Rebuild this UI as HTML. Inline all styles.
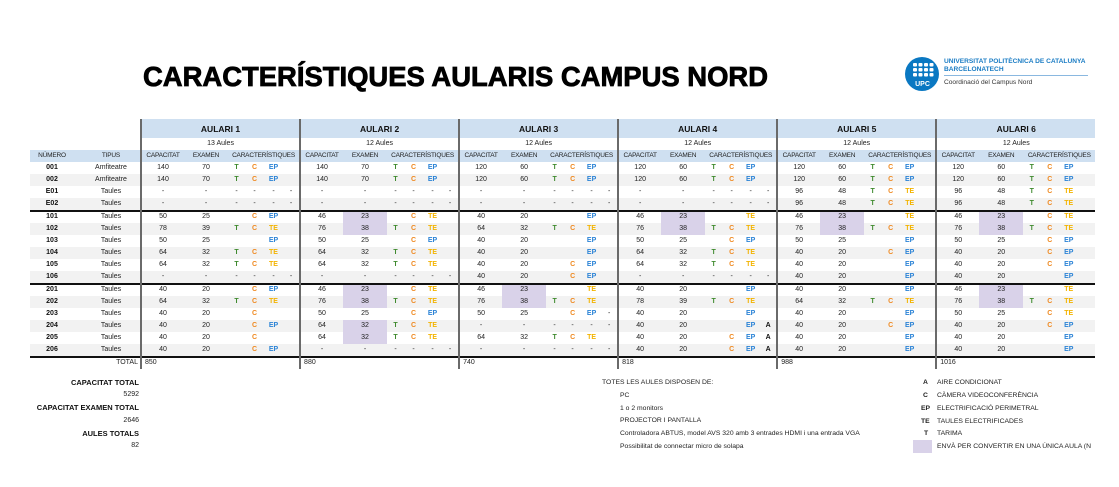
<!DOCTYPE html>
<html><head><meta charset="utf-8">
<style>
*{margin:0;padding:0;box-sizing:border-box}
body{width:1119px;height:487px;background:#fff;position:relative;overflow:hidden;font-family:"Liberation Sans",sans-serif;color:#222}
.abs{position:absolute;white-space:nowrap}
table{position:absolute;left:30px;top:119px;border-collapse:collapse;table-layout:fixed;width:1065px}
td{height:12px;font-size:7px;text-align:center;white-space:nowrap;overflow:hidden;padding:0;line-height:12px}
tr.g td{background:#f2f2f2}
tr.g td.h,td.h{background:#d9d2e9}
tr.b td{box-shadow:inset 0 2px 0 #111;padding-top:1px}
td.s{border-left:2px solid #6a6a6a}
td.n{font-weight:bold;color:#111}
td.tp{padding-left:8px}
.t{color:#3f8a2e;font-weight:bold}
.c{color:#ef8a22;font-weight:bold}
.ep{color:#2b83d6;font-weight:bold}
.te{color:#f3b300;font-weight:bold}
.a{color:#111;font-weight:bold}
tr.hd td.au{background:#cfe0f1;font-weight:bold;font-size:8.5px;height:19px;color:#111}
tr.hc td{background:#cfe0f1;font-size:6.5px;letter-spacing:-0.2px;color:#222}
tr.tot td{text-align:left;padding-left:3px}
.bl{font-size:7.5px;font-weight:bold;color:#111;text-align:right;width:120px}
.bv{font-size:7px;text-align:right;width:120px}
.lg{font-size:6.8px;color:#222}
</style></head><body>

<svg class="abs" style="left:140px;top:56px" width="640" height="40">
<text x="3" y="30" font-family="Liberation Sans, sans-serif" font-weight="bold" font-size="28" fill="#000" stroke="#000" stroke-width="0.8" textLength="625" lengthAdjust="spacingAndGlyphs">CARACTERÍSTIQUES AULARIS CAMPUS NORD</text>
</svg>

<svg class="abs" style="left:903px;top:55px" width="40" height="40">
<circle cx="19" cy="19" r="17" fill="#0a78c2"/>
<g fill="#fff">
<rect x="10" y="8" width="4" height="3.5" rx="1"/><rect x="15.5" y="8" width="4" height="3.5" rx="1"/><rect x="21" y="8" width="4" height="3.5" rx="1"/><rect x="26.5" y="8" width="4" height="3.5" rx="1"/>
<rect x="10" y="13" width="4" height="3.5" rx="1"/><rect x="15.5" y="13" width="4" height="3.5" rx="1"/><rect x="21" y="13" width="4" height="3.5" rx="1"/><rect x="26.5" y="13" width="4" height="3.5" rx="1"/>
<rect x="10" y="18" width="4" height="3.5" rx="1"/><rect x="15.5" y="18" width="4" height="3.5" rx="1"/><rect x="21" y="18" width="4" height="3.5" rx="1"/><rect x="26.5" y="18" width="4" height="3.5" rx="1"/>
<text x="19.5" y="31" font-family="Liberation Sans, sans-serif" font-size="7" font-weight="bold" text-anchor="middle">UPC</text>
</g></svg>
<div class="abs" style="left:944px;top:58px;font-size:6.6px;font-weight:bold;color:#1a7cc4">UNIVERSITAT POLITÈCNICA DE CATALUNYA</div>
<div class="abs" style="left:944px;top:66px;font-size:6.6px;font-weight:bold;color:#1a7cc4">BARCELONATECH</div>
<div class="abs" style="left:944px;top:75px;width:144px;height:1px;background:#8ab8e0"></div>
<div class="abs" style="left:944px;top:79px;font-size:6.6px;color:#333">Coordinació del Campus Nord</div>

<table>
<colgroup><col style="width:44px"><col style="width:67px">
<col style="width:43px"><col style="width:44px"><col style="width:17px"><col style="width:19px"><col style="width:19px"><col style="width:17px">
<col style="width:43px"><col style="width:44px"><col style="width:17px"><col style="width:19px"><col style="width:19px"><col style="width:17px">
<col style="width:43px"><col style="width:44px"><col style="width:17px"><col style="width:19px"><col style="width:19px"><col style="width:17px">
<col style="width:43px"><col style="width:44px"><col style="width:17px"><col style="width:19px"><col style="width:19px"><col style="width:17px">
<col style="width:43px"><col style="width:44px"><col style="width:17px"><col style="width:19px"><col style="width:19px"><col style="width:17px">
<col style="width:43px"><col style="width:44px"><col style="width:17px"><col style="width:19px"><col style="width:19px"><col style="width:17px">
</colgroup>
<tr class="hd"><td></td><td></td><td class="au s" colspan="6">AULARI 1</td><td class="au s" colspan="6">AULARI 2</td><td class="au s" colspan="6">AULARI 3</td><td class="au s" colspan="6">AULARI 4</td><td class="au s" colspan="6">AULARI 5</td><td class="au s" colspan="6">AULARI 6</td></tr>
<tr><td></td><td></td><td class="s" colspan="6">13 Aules</td><td class="s" colspan="6">12 Aules</td><td class="s" colspan="6">12 Aules</td><td class="s" colspan="6">12 Aules</td><td class="s" colspan="6">12 Aules</td><td class="s" colspan="6">12 Aules</td></tr>
<tr class="hc"><td>NÚMERO</td><td class="tp">TIPUS</td>
<td class="s">CAPACITAT</td><td>EXAMEN</td><td colspan="4">CARACTERÍSTIQUES</td>
<td class="s">CAPACITAT</td><td>EXAMEN</td><td colspan="4">CARACTERÍSTIQUES</td>
<td class="s">CAPACITAT</td><td>EXAMEN</td><td colspan="4">CARACTERÍSTIQUES</td>
<td class="s">CAPACITAT</td><td>EXAMEN</td><td colspan="4">CARACTERÍSTIQUES</td>
<td class="s">CAPACITAT</td><td>EXAMEN</td><td colspan="4">CARACTERÍSTIQUES</td>
<td class="s">CAPACITAT</td><td>EXAMEN</td><td colspan="4">CARACTERÍSTIQUES</td></tr>

<tr><td class="n">001</td><td class="tp">Amfiteatre</td>
<td class="s">140</td><td>70</td><td class="t">T</td><td class="c">C</td><td class="ep">EP</td><td></td>
<td class="s">140</td><td>70</td><td class="t">T</td><td class="c">C</td><td class="ep">EP</td><td></td>
<td class="s">120</td><td>60</td><td class="t">T</td><td class="c">C</td><td class="ep">EP</td><td></td>
<td class="s">120</td><td>60</td><td class="t">T</td><td class="c">C</td><td class="ep">EP</td><td></td>
<td class="s">120</td><td>60</td><td class="t">T</td><td class="c">C</td><td class="ep">EP</td><td></td>
<td class="s">120</td><td>60</td><td class="t">T</td><td class="c">C</td><td class="ep">EP</td><td></td></tr>
<tr class="g"><td class="n">002</td><td class="tp">Amfiteatre</td>
<td class="s">140</td><td>70</td><td class="t">T</td><td class="c">C</td><td class="ep">EP</td><td></td>
<td class="s">140</td><td>70</td><td class="t">T</td><td class="c">C</td><td class="ep">EP</td><td></td>
<td class="s">120</td><td>60</td><td class="t">T</td><td class="c">C</td><td class="ep">EP</td><td></td>
<td class="s">120</td><td>60</td><td class="t">T</td><td class="c">C</td><td class="ep">EP</td><td></td>
<td class="s">120</td><td>60</td><td class="t">T</td><td class="c">C</td><td class="ep">EP</td><td></td>
<td class="s">120</td><td>60</td><td class="t">T</td><td class="c">C</td><td class="ep">EP</td><td></td></tr>
<tr><td class="n">E01</td><td class="tp">Taules</td>
<td class="s">-</td><td>-</td><td>-</td><td>-</td><td>-</td><td>-</td>
<td class="s">-</td><td>-</td><td>-</td><td>-</td><td>-</td><td>-</td>
<td class="s">-</td><td>-</td><td>-</td><td>-</td><td>-</td><td>-</td>
<td class="s">-</td><td>-</td><td>-</td><td>-</td><td>-</td><td>-</td>
<td class="s">96</td><td>48</td><td class="t">T</td><td class="c">C</td><td class="te">TE</td><td></td>
<td class="s">96</td><td>48</td><td class="t">T</td><td class="c">C</td><td class="te">TE</td><td></td></tr>
<tr class="g"><td class="n">E02</td><td class="tp">Taules</td>
<td class="s">-</td><td>-</td><td>-</td><td>-</td><td>-</td><td>-</td>
<td class="s">-</td><td>-</td><td>-</td><td>-</td><td>-</td><td>-</td>
<td class="s">-</td><td>-</td><td>-</td><td>-</td><td>-</td><td>-</td>
<td class="s">-</td><td>-</td><td>-</td><td>-</td><td>-</td><td>-</td>
<td class="s">96</td><td>48</td><td class="t">T</td><td class="c">C</td><td class="te">TE</td><td></td>
<td class="s">96</td><td>48</td><td class="t">T</td><td class="c">C</td><td class="te">TE</td><td></td></tr>

<tr class="b"><td class="n">101</td><td class="tp">Taules</td>
<td class="s">50</td><td>25</td><td></td><td class="c">C</td><td class="ep">EP</td><td></td>
<td class="s">46</td><td class="h">23</td><td></td><td class="c">C</td><td class="te">TE</td><td></td>
<td class="s">40</td><td>20</td><td></td><td></td><td class="ep">EP</td><td></td>
<td class="s">46</td><td class="h">23</td><td></td><td></td><td class="te">TE</td><td></td>
<td class="s">46</td><td class="h">23</td><td></td><td></td><td class="te">TE</td><td></td>
<td class="s">46</td><td class="h">23</td><td></td><td class="c">C</td><td class="te">TE</td><td></td></tr>
<tr class="g"><td class="n">102</td><td class="tp">Taules</td>
<td class="s">78</td><td>39</td><td class="t">T</td><td class="c">C</td><td class="te">TE</td><td></td>
<td class="s">76</td><td class="h">38</td><td class="t">T</td><td class="c">C</td><td class="te">TE</td><td></td>
<td class="s">64</td><td>32</td><td class="t">T</td><td class="c">C</td><td class="te">TE</td><td></td>
<td class="s">76</td><td class="h">38</td><td class="t">T</td><td class="c">C</td><td class="te">TE</td><td></td>
<td class="s">76</td><td class="h">38</td><td class="t">T</td><td class="c">C</td><td class="te">TE</td><td></td>
<td class="s">76</td><td class="h">38</td><td class="t">T</td><td class="c">C</td><td class="te">TE</td><td></td></tr>
<tr><td class="n">103</td><td class="tp">Taules</td>
<td class="s">50</td><td>25</td><td></td><td></td><td class="ep">EP</td><td></td>
<td class="s">50</td><td>25</td><td></td><td class="c">C</td><td class="ep">EP</td><td></td>
<td class="s">40</td><td>20</td><td></td><td></td><td class="ep">EP</td><td></td>
<td class="s">50</td><td>25</td><td></td><td class="c">C</td><td class="ep">EP</td><td></td>
<td class="s">50</td><td>25</td><td></td><td></td><td class="ep">EP</td><td></td>
<td class="s">50</td><td>25</td><td></td><td class="c">C</td><td class="ep">EP</td><td></td></tr>
<tr class="g"><td class="n">104</td><td class="tp">Taules</td>
<td class="s">64</td><td>32</td><td class="t">T</td><td class="c">C</td><td class="te">TE</td><td></td>
<td class="s">64</td><td>32</td><td class="t">T</td><td class="c">C</td><td class="te">TE</td><td></td>
<td class="s">40</td><td>20</td><td></td><td></td><td class="ep">EP</td><td></td>
<td class="s">64</td><td>32</td><td class="t">T</td><td class="c">C</td><td class="te">TE</td><td></td>
<td class="s">40</td><td>20</td><td></td><td class="c">C</td><td class="ep">EP</td><td></td>
<td class="s">40</td><td>20</td><td></td><td class="c">C</td><td class="ep">EP</td><td></td></tr>
<tr><td class="n">105</td><td class="tp">Taules</td>
<td class="s">64</td><td>32</td><td class="t">T</td><td class="c">C</td><td class="te">TE</td><td></td>
<td class="s">64</td><td>32</td><td class="t">T</td><td class="c">C</td><td class="te">TE</td><td></td>
<td class="s">40</td><td>20</td><td></td><td class="c">C</td><td class="ep">EP</td><td></td>
<td class="s">64</td><td>32</td><td class="t">T</td><td class="c">C</td><td class="te">TE</td><td></td>
<td class="s">40</td><td>20</td><td></td><td></td><td class="ep">EP</td><td></td>
<td class="s">40</td><td>20</td><td></td><td class="c">C</td><td class="ep">EP</td><td></td></tr>
<tr class="g"><td class="n">106</td><td class="tp">Taules</td>
<td class="s">-</td><td>-</td><td>-</td><td>-</td><td>-</td><td>-</td>
<td class="s">-</td><td>-</td><td>-</td><td>-</td><td>-</td><td>-</td>
<td class="s">40</td><td>20</td><td></td><td class="c">C</td><td class="ep">EP</td><td></td>
<td class="s">-</td><td>-</td><td>-</td><td>-</td><td>-</td><td>-</td>
<td class="s">40</td><td>20</td><td></td><td></td><td class="ep">EP</td><td></td>
<td class="s">40</td><td>20</td><td></td><td></td><td class="ep">EP</td><td></td></tr>

<tr class="b"><td class="n">201</td><td class="tp">Taules</td>
<td class="s">40</td><td>20</td><td></td><td class="c">C</td><td class="ep">EP</td><td></td>
<td class="s">46</td><td class="h">23</td><td></td><td class="c">C</td><td class="te">TE</td><td></td>
<td class="s">46</td><td class="h">23</td><td></td><td></td><td class="te">TE</td><td></td>
<td class="s">40</td><td>20</td><td></td><td></td><td class="ep">EP</td><td></td>
<td class="s">40</td><td>20</td><td></td><td></td><td class="ep">EP</td><td></td>
<td class="s">46</td><td class="h">23</td><td></td><td></td><td class="te">TE</td><td></td></tr>
<tr class="g"><td class="n">202</td><td class="tp">Taules</td>
<td class="s">64</td><td>32</td><td class="t">T</td><td class="c">C</td><td class="te">TE</td><td></td>
<td class="s">76</td><td class="h">38</td><td class="t">T</td><td class="c">C</td><td class="te">TE</td><td></td>
<td class="s">76</td><td class="h">38</td><td class="t">T</td><td class="c">C</td><td class="te">TE</td><td></td>
<td class="s">78</td><td>39</td><td class="t">T</td><td class="c">C</td><td class="te">TE</td><td></td>
<td class="s">64</td><td>32</td><td class="t">T</td><td class="c">C</td><td class="te">TE</td><td></td>
<td class="s">76</td><td class="h">38</td><td class="t">T</td><td class="c">C</td><td class="te">TE</td><td></td></tr>
<tr><td class="n">203</td><td class="tp">Taules</td>
<td class="s">40</td><td>20</td><td></td><td class="c">C</td><td></td><td></td>
<td class="s">50</td><td>25</td><td></td><td class="c">C</td><td class="ep">EP</td><td></td>
<td class="s">50</td><td>25</td><td></td><td class="c">C</td><td class="ep">EP</td><td>-</td>
<td class="s">40</td><td>20</td><td></td><td></td><td class="ep">EP</td><td></td>
<td class="s">40</td><td>20</td><td></td><td></td><td class="ep">EP</td><td></td>
<td class="s">50</td><td>25</td><td></td><td class="c">C</td><td class="te">TE</td><td></td></tr>
<tr class="g"><td class="n">204</td><td class="tp">Taules</td>
<td class="s">40</td><td>20</td><td></td><td class="c">C</td><td class="ep">EP</td><td></td>
<td class="s">64</td><td class="h">32</td><td class="t">T</td><td class="c">C</td><td class="te">TE</td><td></td>
<td class="s">-</td><td>-</td><td>-</td><td>-</td><td>-</td><td>-</td>
<td class="s">40</td><td>20</td><td></td><td></td><td class="ep">EP</td><td class="a">A</td>
<td class="s">40</td><td>20</td><td></td><td class="c">C</td><td class="ep">EP</td><td></td>
<td class="s">40</td><td>20</td><td></td><td class="c">C</td><td class="ep">EP</td><td></td></tr>
<tr><td class="n">205</td><td class="tp">Taules</td>
<td class="s">40</td><td>20</td><td></td><td class="c">C</td><td></td><td></td>
<td class="s">64</td><td class="h">32</td><td class="t">T</td><td class="c">C</td><td class="te">TE</td><td></td>
<td class="s">64</td><td>32</td><td class="t">T</td><td class="c">C</td><td class="te">TE</td><td></td>
<td class="s">40</td><td>20</td><td></td><td class="c">C</td><td class="ep">EP</td><td class="a">A</td>
<td class="s">40</td><td>20</td><td></td><td></td><td class="ep">EP</td><td></td>
<td class="s">40</td><td>20</td><td></td><td></td><td class="ep">EP</td><td></td></tr>
<tr class="g"><td class="n">206</td><td class="tp">Taules</td>
<td class="s">40</td><td>20</td><td></td><td class="c">C</td><td class="ep">EP</td><td></td>
<td class="s">-</td><td>-</td><td>-</td><td>-</td><td>-</td><td>-</td>
<td class="s">-</td><td>-</td><td>-</td><td>-</td><td>-</td><td>-</td>
<td class="s">40</td><td>20</td><td></td><td class="c">C</td><td class="ep">EP</td><td class="a">A</td>
<td class="s">40</td><td>20</td><td></td><td></td><td class="ep">EP</td><td></td>
<td class="s">40</td><td>20</td><td></td><td></td><td class="ep">EP</td><td></td></tr>

<tr class="b tot"><td></td><td style="text-align:right;padding-right:2px">TOTAL</td>
<td class="s" colspan="6">850</td><td class="s" colspan="6">880</td><td class="s" colspan="6">740</td><td class="s" colspan="6">818</td><td class="s" colspan="6">988</td><td class="s" colspan="6">1016</td></tr>
</table>

<div class="abs bl" style="left:19px;top:378px">CAPACITAT TOTAL</div>
<div class="abs bv" style="left:19px;top:391px">5292</div>
<div class="abs bl" style="left:19px;top:403px">CAPACITAT EXAMEN TOTAL</div>
<div class="abs bv" style="left:19px;top:417px">2646</div>
<div class="abs bl" style="left:19px;top:429px">AULES TOTALS</div>
<div class="abs bv" style="left:19px;top:442px">82</div>

<div class="abs lg" style="left:602px;top:379px">TOTES LES AULES DISPOSEN DE:</div>
<div class="abs lg" style="left:620px;top:392px">PC</div>
<div class="abs lg" style="left:620px;top:405px">1 o 2 monitors</div>
<div class="abs lg" style="left:620px;top:417px">PROJECTOR I PANTALLA</div>
<div class="abs lg" style="left:620px;top:430px">Controladora ABTUS, model AVS 320 amb 3 entrades HDMI i una entrada VGA</div>
<div class="abs lg" style="left:620px;top:443px">Possibilitat de connectar micro de solapa</div>

<div class="abs lg a" style="left:923px;top:379px">A</div>
<div class="abs lg c" style="left:923px;top:392px">C</div>
<div class="abs lg ep" style="left:921px;top:405px">EP</div>
<div class="abs lg te" style="left:921px;top:418px">TE</div>
<div class="abs lg a" style="left:924px;top:430px">T</div>
<div class="abs" style="left:913px;top:440px;width:19px;height:13px;background:#d9d2e9"></div>
<div class="abs lg" style="left:937px;top:379px">AIRE CONDICIONAT</div>
<div class="abs lg" style="left:937px;top:392px">CÀMERA VIDEOCONFERÈNCIA</div>
<div class="abs lg" style="left:937px;top:405px">ELECTRIFICACIÓ PERIMETRAL</div>
<div class="abs lg" style="left:937px;top:418px">TAULES ELECTRIFICADES</div>
<div class="abs lg" style="left:937px;top:430px">TARIMA</div>
<div class="abs lg" style="left:937px;top:443px">ENVÀ PER CONVERTIR EN UNA ÚNICA AULA (N</div>
</body></html>
